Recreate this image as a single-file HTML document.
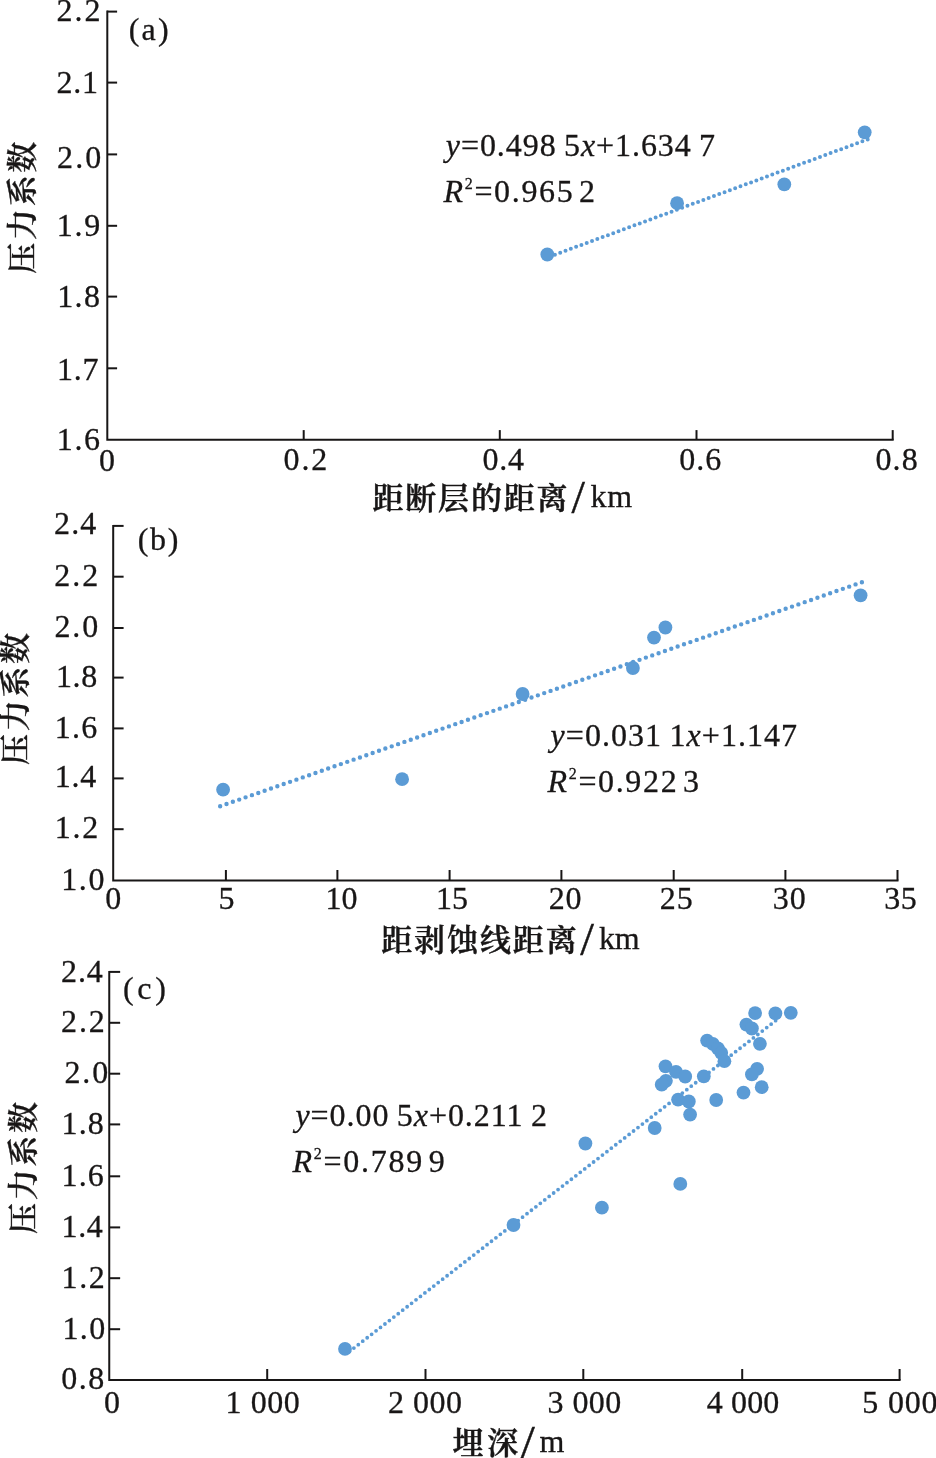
<!DOCTYPE html>
<html lang="zh"><head><meta charset="utf-8"><title>压力系数</title>
<style>html,body{margin:0;padding:0;background:#fff}svg{display:block}</style></head>
<body>
<svg width="936" height="1458" viewBox="0 0 936 1458">
<rect width="936" height="1458" fill="#fff"/>
<g stroke="#181616" stroke-width="2" fill="none" stroke-linecap="butt"><path d="M107.3 10.6V439.7M106.3 439.7H893.7"/><path d="M107.3 11.6h9.8"/><path d="M107.3 82.6h9.8"/><path d="M107.3 154.4h9.8"/><path d="M107.3 225.8h9.8"/><path d="M107.3 296.6h9.8"/><path d="M107.3 368.3h9.8"/><path d="M303.7 439.7v-9.6"/><path d="M499.8 439.7v-9.6"/><path d="M696.5 439.7v-9.6"/><path d="M892.7 439.7v-9.6"/></g>
<g stroke="#181616" stroke-width="2" fill="none" stroke-linecap="butt"><path d="M113.2 524.9V880.4M112.2 880.4H898.5"/><path d="M113.2 525.9h10.4"/><path d="M113.2 576.7h10.4"/><path d="M113.2 628.0h10.4"/><path d="M113.2 677.6h10.4"/><path d="M113.2 728.4h10.4"/><path d="M113.2 778.4h10.4"/><path d="M113.2 829.2h10.4"/><path d="M225.9 880.4v-10.4"/><path d="M337.4 880.4v-10.4"/><path d="M449.6 880.4v-10.4"/><path d="M561.4 880.4v-10.4"/><path d="M673.7 880.4v-10.4"/><path d="M785.4 880.4v-10.4"/><path d="M897.5 880.4v-10.4"/></g>
<g stroke="#181616" stroke-width="2" fill="none" stroke-linecap="butt"><path d="M109.25 970.9V1379.9M108.25 1379.9H900.6"/><path d="M109.25 971.9h10.9"/><path d="M109.25 1022.8h10.9"/><path d="M109.25 1073.7h10.9"/><path d="M109.25 1124.4h10.9"/><path d="M109.25 1176.3h10.9"/><path d="M109.25 1227.4h10.9"/><path d="M109.25 1278.2h10.9"/><path d="M109.25 1329.2h10.9"/><path d="M267.2 1379.9v-10.9"/><path d="M425.5 1379.9v-10.9"/><path d="M583.3 1379.9v-10.9"/><path d="M742.2 1379.9v-10.9"/><path d="M899.6 1379.9v-10.9"/></g>
<path d="M867.7 139.4L547.5 257.4" stroke="#5b9bd5" stroke-width="4.0" stroke-linecap="round" stroke-dasharray="0 5.65" fill="none"/>
<g fill="#5b9bd5"><circle cx="547.3" cy="254.5" r="6.9"/><circle cx="677.1" cy="203.2" r="6.9"/><circle cx="784.3" cy="184.3" r="6.9"/><circle cx="864.7" cy="132.3" r="6.9"/></g>
<path d="M861.9 582.2L220 806.3" stroke="#5b9bd5" stroke-width="4.4" stroke-linecap="round" stroke-dasharray="0 6.73" fill="none"/>
<g fill="#5b9bd5"><circle cx="223.1" cy="789.7" r="6.9"/><circle cx="402.1" cy="779.2" r="6.9"/><circle cx="522.6" cy="694" r="6.9"/><circle cx="632.9" cy="668.0" r="6.9"/><circle cx="654" cy="637.6" r="6.9"/><circle cx="665.4" cy="627.5" r="6.9"/><circle cx="860.6" cy="595.3" r="6.9"/></g>
<path d="M775.6 1020.7L346.4 1353.9" stroke="#5b9bd5" stroke-width="3.8" stroke-linecap="round" stroke-dasharray="0 5.62" fill="none"/>
<g fill="#5b9bd5"><circle cx="755.1" cy="1013.1" r="6.9"/><circle cx="775.4" cy="1013.3" r="6.9"/><circle cx="790.8" cy="1012.8" r="6.9"/><circle cx="746.4" cy="1024.6" r="6.9"/><circle cx="751.9" cy="1028.5" r="6.9"/><circle cx="759.9" cy="1043.8" r="6.9"/><circle cx="707.1" cy="1040.6" r="6.9"/><circle cx="712.8" cy="1043.8" r="6.9"/><circle cx="717.9" cy="1048.3" r="6.9"/><circle cx="721.2" cy="1052.8" r="6.9"/><circle cx="724.4" cy="1061.2" r="6.9"/><circle cx="665.5" cy="1066.3" r="6.9"/><circle cx="676" cy="1071.8" r="6.9"/><circle cx="685.2" cy="1076.5" r="6.9"/><circle cx="703.8" cy="1076.3" r="6.9"/><circle cx="665.9" cy="1080.8" r="6.9"/><circle cx="661.7" cy="1084.7" r="6.9"/><circle cx="757.1" cy="1068.8" r="6.9"/><circle cx="751.9" cy="1074.4" r="6.9"/><circle cx="761.7" cy="1087.2" r="6.9"/><circle cx="743.5" cy="1092.6" r="6.9"/><circle cx="716.2" cy="1100" r="6.9"/><circle cx="678.1" cy="1099.6" r="6.9"/><circle cx="688.8" cy="1101.5" r="6.9"/><circle cx="690.1" cy="1114.6" r="6.9"/><circle cx="654.7" cy="1128" r="6.9"/><circle cx="680.3" cy="1183.9" r="6.9"/><circle cx="585.4" cy="1143.5" r="6.9"/><circle cx="601.9" cy="1207.7" r="6.9"/><circle cx="513.5" cy="1225" r="6.9"/><circle cx="345" cy="1348.9" r="6.9"/></g>
<text x="56.50" y="21.40" letter-spacing="2.050" font-family="Liberation Serif, serif" font-size="32" stroke="#181616" stroke-width="0.3" fill="#181616">2.2</text>
<text x="56.50" y="92.70" letter-spacing="0.750" font-family="Liberation Serif, serif" font-size="32" stroke="#181616" stroke-width="0.3" fill="#181616">2.1</text>
<text x="57.10" y="168.40" letter-spacing="2.050" font-family="Liberation Serif, serif" font-size="32" stroke="#181616" stroke-width="0.3" fill="#181616">2.0</text>
<text x="56.80" y="236.20" letter-spacing="1.750" font-family="Liberation Serif, serif" font-size="32" stroke="#181616" stroke-width="0.3" fill="#181616">1.9</text>
<text x="57.20" y="307.00" letter-spacing="1.350" font-family="Liberation Serif, serif" font-size="32" stroke="#181616" stroke-width="0.3" fill="#181616">1.8</text>
<text x="57.00" y="379.90" letter-spacing="0.750" font-family="Liberation Serif, serif" font-size="32" stroke="#181616" stroke-width="0.3" fill="#181616">1.7</text>
<text x="56.80" y="450.10" letter-spacing="1.650" font-family="Liberation Serif, serif" font-size="32" stroke="#181616" stroke-width="0.3" fill="#181616">1.6</text>
<text x="99.00" y="470.50" letter-spacing="0.000" font-family="Liberation Serif, serif" font-size="32" stroke="#181616" stroke-width="0.3" fill="#181616">0</text>
<text x="283.50" y="470.30" letter-spacing="1.875" font-family="Liberation Serif, serif" font-size="32" stroke="#181616" stroke-width="0.3" fill="#181616">0.2</text>
<text x="482.40" y="470.30" letter-spacing="0.850" font-family="Liberation Serif, serif" font-size="32" stroke="#181616" stroke-width="0.3" fill="#181616">0.4</text>
<text x="679.20" y="470.30" letter-spacing="1.050" font-family="Liberation Serif, serif" font-size="32" stroke="#181616" stroke-width="0.3" fill="#181616">0.6</text>
<text x="875.40" y="470.30" letter-spacing="1.200" font-family="Liberation Serif, serif" font-size="32" stroke="#181616" stroke-width="0.3" fill="#181616">0.8</text>
<text x="128.70" y="39.50" letter-spacing="2.200" font-family="Liberation Serif, serif" font-size="32" stroke="#181616" stroke-width="0.3" fill="#181616">(a)</text>
<text x="445.80" y="156.40" letter-spacing="0.929" font-family="Liberation Serif, serif" font-size="32" word-spacing="-1.5" stroke="#181616" stroke-width="0.3" fill="#181616"><tspan font-style="italic">y</tspan>=0.498 5<tspan font-style="italic">x</tspan>+1.634 7</text>
<text x="443.50" y="202.40" letter-spacing="1.667" font-family="Liberation Serif, serif" font-size="32" word-spacing="-5" stroke="#181616" stroke-width="0.3" fill="#181616"><tspan font-style="italic">R</tspan><tspan font-size="16" dy="-13.2">2</tspan><tspan dy="13.2">=0.965 2</tspan></text>
<text x="54.00" y="534.40" letter-spacing="1.150" font-family="Liberation Serif, serif" font-size="32" stroke="#181616" stroke-width="0.3" fill="#181616">2.4</text>
<text x="54.20" y="585.70" letter-spacing="2.050" font-family="Liberation Serif, serif" font-size="32" stroke="#181616" stroke-width="0.3" fill="#181616">2.2</text>
<text x="54.50" y="637.30" letter-spacing="1.850" font-family="Liberation Serif, serif" font-size="32" stroke="#181616" stroke-width="0.3" fill="#181616">2.0</text>
<text x="55.90" y="687.00" letter-spacing="0.700" font-family="Liberation Serif, serif" font-size="32" stroke="#181616" stroke-width="0.3" fill="#181616">1.8</text>
<text x="54.80" y="737.70" letter-spacing="1.250" font-family="Liberation Serif, serif" font-size="32" stroke="#181616" stroke-width="0.3" fill="#181616">1.6</text>
<text x="54.80" y="787.00" letter-spacing="0.750" font-family="Liberation Serif, serif" font-size="32" stroke="#181616" stroke-width="0.3" fill="#181616">1.4</text>
<text x="54.80" y="838.00" letter-spacing="1.750" font-family="Liberation Serif, serif" font-size="32" stroke="#181616" stroke-width="0.3" fill="#181616">1.2</text>
<text x="61.30" y="890.00" letter-spacing="1.550" font-family="Liberation Serif, serif" font-size="32" stroke="#181616" stroke-width="0.3" fill="#181616">1.0</text>
<text x="105.20" y="909.10" letter-spacing="0.000" font-family="Liberation Serif, serif" font-size="32" stroke="#181616" stroke-width="0.3" fill="#181616">0</text>
<text x="218.50" y="909.10" letter-spacing="0.000" font-family="Liberation Serif, serif" font-size="32" stroke="#181616" stroke-width="0.3" fill="#181616">5</text>
<text x="325.50" y="909.40" letter-spacing="0.100" font-family="Liberation Serif, serif" font-size="32" stroke="#181616" stroke-width="0.3" fill="#181616">10</text>
<text x="436.00" y="909.40" letter-spacing="0.000" font-family="Liberation Serif, serif" font-size="32" stroke="#181616" stroke-width="0.3" fill="#181616">15</text>
<text x="548.70" y="909.40" letter-spacing="0.700" font-family="Liberation Serif, serif" font-size="32" stroke="#181616" stroke-width="0.3" fill="#181616">20</text>
<text x="659.80" y="909.40" letter-spacing="1.000" font-family="Liberation Serif, serif" font-size="32" stroke="#181616" stroke-width="0.3" fill="#181616">25</text>
<text x="772.70" y="909.40" letter-spacing="1.100" font-family="Liberation Serif, serif" font-size="32" stroke="#181616" stroke-width="0.3" fill="#181616">30</text>
<text x="884.20" y="909.40" letter-spacing="0.600" font-family="Liberation Serif, serif" font-size="32" stroke="#181616" stroke-width="0.3" fill="#181616">35</text>
<text x="137.75" y="550.30" letter-spacing="1.625" font-family="Liberation Serif, serif" font-size="32" stroke="#181616" stroke-width="0.3" fill="#181616">(b)</text>
<text x="550.60" y="746.30" letter-spacing="1.027" font-family="Liberation Serif, serif" font-size="32" word-spacing="-1.5" stroke="#181616" stroke-width="0.3" fill="#181616"><tspan font-style="italic">y</tspan>=0.031 1<tspan font-style="italic">x</tspan>+1.147</text>
<text x="547.60" y="791.90" letter-spacing="1.633" font-family="Liberation Serif, serif" font-size="32" word-spacing="-5" stroke="#181616" stroke-width="0.3" fill="#181616"><tspan font-style="italic">R</tspan><tspan font-size="16" dy="-13.2">2</tspan><tspan dy="13.2">=0.922 3</tspan></text>
<text x="61.00" y="981.60" letter-spacing="0.900" font-family="Liberation Serif, serif" font-size="32" stroke="#181616" stroke-width="0.3" fill="#181616">2.4</text>
<text x="61.00" y="1032.20" letter-spacing="1.900" font-family="Liberation Serif, serif" font-size="32" stroke="#181616" stroke-width="0.3" fill="#181616">2.2</text>
<text x="64.40" y="1083.00" letter-spacing="1.950" font-family="Liberation Serif, serif" font-size="32" stroke="#181616" stroke-width="0.3" fill="#181616">2.0</text>
<text x="61.60" y="1133.80" letter-spacing="1.100" font-family="Liberation Serif, serif" font-size="32" stroke="#181616" stroke-width="0.3" fill="#181616">1.8</text>
<text x="61.60" y="1186.30" letter-spacing="1.100" font-family="Liberation Serif, serif" font-size="32" stroke="#181616" stroke-width="0.3" fill="#181616">1.6</text>
<text x="61.60" y="1236.90" letter-spacing="0.600" font-family="Liberation Serif, serif" font-size="32" stroke="#181616" stroke-width="0.3" fill="#181616">1.4</text>
<text x="61.60" y="1287.80" letter-spacing="1.600" font-family="Liberation Serif, serif" font-size="32" stroke="#181616" stroke-width="0.3" fill="#181616">1.2</text>
<text x="62.40" y="1338.60" letter-spacing="1.450" font-family="Liberation Serif, serif" font-size="32" stroke="#181616" stroke-width="0.3" fill="#181616">1.0</text>
<text x="61.20" y="1389.30" letter-spacing="1.500" font-family="Liberation Serif, serif" font-size="32" stroke="#181616" stroke-width="0.3" fill="#181616">0.8</text>
<text x="103.90" y="1412.90" letter-spacing="0.000" font-family="Liberation Serif, serif" font-size="32" stroke="#181616" stroke-width="0.3" fill="#181616">0</text>
<text x="225.50" y="1412.90" letter-spacing="0.575" font-family="Liberation Serif, serif" font-size="32" stroke="#181616" stroke-width="0.3" fill="#181616">1 000</text>
<text x="387.90" y="1412.90" letter-spacing="0.500" font-family="Liberation Serif, serif" font-size="32" stroke="#181616" stroke-width="0.3" fill="#181616">2 000</text>
<text x="547.60" y="1412.90" letter-spacing="0.400" font-family="Liberation Serif, serif" font-size="32" stroke="#181616" stroke-width="0.3" fill="#181616">3 000</text>
<text x="706.70" y="1412.90" letter-spacing="0.150" font-family="Liberation Serif, serif" font-size="32" stroke="#181616" stroke-width="0.3" fill="#181616">4 000</text>
<text x="862.30" y="1412.90" letter-spacing="0.800" font-family="Liberation Serif, serif" font-size="32" stroke="#181616" stroke-width="0.3" fill="#181616">5 000</text>
<text x="123.10" y="998.80" letter-spacing="3.600" font-family="Liberation Serif, serif" font-size="32" stroke="#181616" stroke-width="0.3" fill="#181616">(c)</text>
<text x="295.40" y="1126.30" letter-spacing="0.950" font-family="Liberation Serif, serif" font-size="32" word-spacing="-1.5" stroke="#181616" stroke-width="0.3" fill="#181616"><tspan font-style="italic">y</tspan>=0.00 5<tspan font-style="italic">x</tspan>+0.211 2</text>
<text x="292.40" y="1171.90" letter-spacing="1.744" font-family="Liberation Serif, serif" font-size="32" word-spacing="-5" stroke="#181616" stroke-width="0.3" fill="#181616"><tspan font-style="italic">R</tspan><tspan font-size="16" dy="-13.2">2</tspan><tspan dy="13.2">=0.789 9</tspan></text>
<text x="372.50" y="509.30" letter-spacing="1.800" font-family="Liberation Serif, Noto Serif CJK SC, serif" font-size="31" font-weight="600" stroke="#181616" stroke-width="0.45" fill="#181616">距断层的距离</text>
<text x="590.50" y="507.30" letter-spacing="0.700" font-family="Liberation Serif, serif" font-size="32" stroke="#181616" stroke-width="0.3" fill="#181616">km</text>
<text x="381.20" y="950.90" letter-spacing="1.920" font-family="Liberation Serif, Noto Serif CJK SC, serif" font-size="31" font-weight="600" stroke="#181616" stroke-width="0.45" fill="#181616">距剥蚀线距离</text>
<text x="598.90" y="948.90" letter-spacing="-0.100" font-family="Liberation Serif, serif" font-size="32" stroke="#181616" stroke-width="0.3" fill="#181616">km</text>
<text x="452.50" y="1454.20" letter-spacing="3.700" font-family="Liberation Serif, Noto Serif CJK SC, serif" font-size="31" font-weight="600" stroke="#181616" stroke-width="0.45" fill="#181616">埋深</text>
<text x="539.40" y="1452.20" letter-spacing="0.000" font-family="Liberation Serif, serif" font-size="32" stroke="#181616" stroke-width="0.3" fill="#181616">m</text>
<text transform="translate(571.60 513.30) scale(1.058 1)" font-family="Liberation Serif, serif" font-size="45.69" stroke="#181616" stroke-width="0.4" fill="#181616">/</text>
<text transform="translate(580.20 954.60) scale(1.057 1)" font-family="Liberation Serif, serif" font-size="46.46" stroke="#181616" stroke-width="0.4" fill="#181616">/</text>
<text transform="translate(520.80 1458.20) scale(1.088 1)" font-family="Liberation Serif, serif" font-size="46.46" stroke="#181616" stroke-width="0.4" fill="#181616">/</text>
<text transform="translate(33.40 273.70) rotate(-90)" letter-spacing="2.667" font-family="Liberation Serif, Noto Serif CJK SC, serif" font-size="31" font-weight="600" stroke="#181616" stroke-width="0.35" fill="#181616">压力系数</text>
<text transform="translate(25.90 765.00) rotate(-90)" letter-spacing="2.667" font-family="Liberation Serif, Noto Serif CJK SC, serif" font-size="31" font-weight="600" stroke="#181616" stroke-width="0.35" fill="#181616">压力系数</text>
<text transform="translate(33.50 1234.00) rotate(-90)" letter-spacing="2.667" font-family="Liberation Serif, Noto Serif CJK SC, serif" font-size="31" font-weight="600" stroke="#181616" stroke-width="0.35" fill="#181616">压力系数</text>
</svg>
</body></html>
